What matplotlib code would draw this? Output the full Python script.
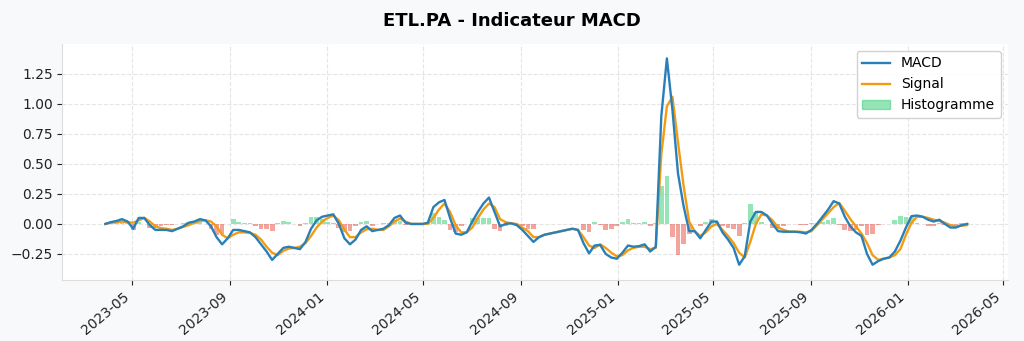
import matplotlib
matplotlib.use("Agg")
import matplotlib.pyplot as plt
import matplotlib.dates as mdates
import numpy as np
import pandas as pd

# weekly MACD / signal values for ETL.PA
dates = pd.date_range("2023-03-28", periods=156, freq="7D")

macd = [
    0.00, 0.015, 0.025, 0.04, 0.02, -0.04, 0.05, 0.05, -0.01, -0.05,
    -0.05, -0.05, -0.06, -0.04, -0.02, 0.01, 0.02, 0.04, 0.03, -0.02,
    -0.11, -0.17, -0.12, -0.05, -0.05, -0.06, -0.07, -0.11, -0.17, -0.23,
    -0.30, -0.25, -0.20, -0.19, -0.20, -0.21, -0.15, -0.04, 0.03, 0.06,
    0.07, 0.08, 0.00, -0.12, -0.17, -0.13, -0.05, -0.02, -0.06, -0.05,
    -0.04, -0.01, 0.05, 0.07, 0.01, 0.00, 0.00, 0.00, 0.01, 0.14,
    0.18, 0.20, 0.05, -0.08, -0.09, -0.07, 0.02, 0.10, 0.17, 0.22,
    0.10, -0.02, 0.00, 0.005, -0.01, -0.05, -0.10, -0.15, -0.11, -0.09,
    -0.08, -0.07, -0.06, -0.05, -0.04, -0.05, -0.16, -0.245, -0.18, -0.175,
    -0.25, -0.28, -0.29, -0.24, -0.18, -0.19, -0.185, -0.17, -0.23, -0.19,
    0.90, 1.38, 0.95, 0.42, 0.15, -0.06, -0.06, -0.12, -0.05, 0.02,
    0.02, -0.07, -0.13, -0.20, -0.34, -0.27, 0.02, 0.10, 0.10, 0.07,
    0.00, -0.06, -0.065, -0.065, -0.065, -0.07, -0.08, -0.05, 0.00, 0.06,
    0.12, 0.19, 0.17, 0.06, -0.02, -0.07, -0.10, -0.25, -0.34, -0.31,
    -0.29, -0.28, -0.23, -0.14, -0.03, 0.065, 0.07, 0.06, 0.035, 0.02,
    0.035, 0.00, -0.03, -0.03, -0.01, 0.00,
]

signal = [
    0.00, 0.01, 0.015, 0.02, 0.015, 0.01, 0.03, 0.05, 0.02, -0.02,
    -0.035, -0.04, -0.05, -0.04, -0.025, -0.01, 0.01, 0.025, 0.03, 0.02,
    -0.02, -0.09, -0.12, -0.09, -0.07, -0.07, -0.075, -0.09, -0.13, -0.19,
    -0.24, -0.26, -0.225, -0.205, -0.20, -0.19, -0.16, -0.10, -0.03, 0.02,
    0.05, 0.07, 0.03, -0.05, -0.11, -0.11, -0.07, -0.045, -0.04, -0.05,
    -0.05, -0.02, 0.02, 0.045, 0.02, 0.00, 0.00, 0.00, 0.00, 0.05,
    0.12, 0.17, 0.10, -0.01, -0.07, -0.07, -0.03, 0.05, 0.12, 0.17,
    0.14, 0.04, 0.015, 0.005, 0.00, -0.03, -0.06, -0.11, -0.11, -0.09,
    -0.08, -0.07, -0.06, -0.05, -0.04, -0.05, -0.11, -0.18, -0.20, -0.17,
    -0.20, -0.24, -0.27, -0.26, -0.22, -0.20, -0.19, -0.19, -0.21, -0.20,
    0.58, 0.98, 1.06, 0.68, 0.32, 0.02, -0.06, -0.10, -0.07, -0.02,
    0.00, -0.05, -0.10, -0.16, -0.24, -0.28, -0.15, 0.00, 0.08, 0.07,
    0.03, -0.03, -0.05, -0.065, -0.065, -0.065, -0.07, -0.06, -0.01, 0.04,
    0.09, 0.14, 0.175, 0.11, 0.04, -0.02, -0.08, -0.16, -0.26, -0.30,
    -0.29, -0.28, -0.26, -0.21, -0.09, 0.01, 0.06, 0.06, 0.05, 0.035,
    0.025, 0.01, -0.01, -0.02, -0.015, -0.01,
]

macd = np.array(macd)
signal = np.array(signal)
hist = macd - signal
couleurs = np.where(hist >= 0, "#2ecc71", "#e74c3c")

fig = plt.figure(figsize=(10.24, 3.41), dpi=100, facecolor="#f8f9fa")
ax = fig.add_axes([0.061, 0.179, 0.923, 0.692])
ax.set_facecolor("white")

ax.bar(dates, hist, width=6, color=couleurs, alpha=0.5, label="Histogramme", zorder=1)
ax.plot(dates, macd, color="#2980b9", lw=1.7, label="MACD", zorder=3)
ax.plot(dates, signal, color="#f39c12", lw=1.7, label="Signal", zorder=2)

ax.set_xlim(pd.Timestamp("2023-02-02"), pd.Timestamp("2026-05-07"))
ax.set_ylim(-0.467, 1.5)
ax.set_yticks([-0.25, 0.0, 0.25, 0.5, 0.75, 1.0, 1.25])
ax.xaxis.set_major_locator(mdates.MonthLocator(bymonth=[1, 5, 9]))
ax.xaxis.set_major_formatter(mdates.DateFormatter("%Y-%m"))
plt.setp(ax.get_xticklabels(), rotation=40, ha="right")
ax.tick_params(labelsize=10, colors="#222222", length=3.5)

ax.grid(True, ls="--", color="#cccccc", alpha=0.5, lw=0.8)
ax.set_axisbelow(True)
for s in ["top", "right"]:
    ax.spines[s].set_visible(False)
for s in ["left", "bottom"]:
    ax.spines[s].set_color("#dddddd")

h, l = ax.get_legend_handles_labels()
ordre = [l.index("MACD"), l.index("Signal"), l.index("Histogramme")]
leg = ax.legend([h[i] for i in ordre], [l[i] for i in ordre], loc="upper right", fontsize=10, framealpha=0.9)
leg.legend_handles[2].set_color("#2ecc71")

fig.suptitle("ETL.PA - Indicateur MACD", fontsize=13, fontweight="bold", y=0.965)
fig.savefig("out.png", dpi=100, facecolor=fig.get_facecolor())
